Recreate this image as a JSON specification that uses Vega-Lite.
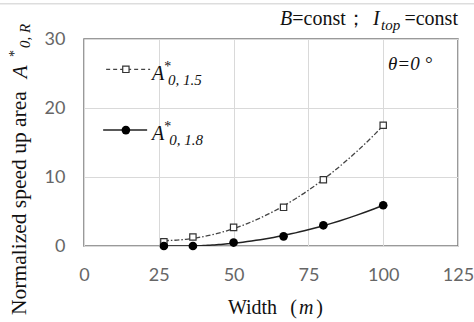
{
  "$schema": "https://vega.github.io/schema/vega-lite/v6.json",
  "width": 374,
  "height": 207,
  "autosize": {"type": "none"},
  "padding": {"left": 84, "top": 39, "right": 16, "bottom": 76},
  "background": "white",
  "datasets": {
    "a15": [
      {"w": 26.7, "a": 0.6},
      {"w": 36.4, "a": 1.3},
      {"w": 50, "a": 2.7},
      {"w": 66.7, "a": 5.6},
      {"w": 80, "a": 9.6},
      {"w": 100, "a": 17.5}
    ],
    "a18": [
      {"w": 26.7, "a": 0},
      {"w": 36.4, "a": 0},
      {"w": 50, "a": 0.5},
      {"w": 66.7, "a": 1.4},
      {"w": 80, "a": 3.0},
      {"w": 100, "a": 5.9}
    ],
    "leg15": [{"w": 7.4, "a": 25.6}, {"w": 22.1, "a": 25.6}],
    "leg18": [{"w": 6.4, "a": 16.8}, {"w": 21.1, "a": 16.8}],
    "legMark15": [{"w": 14.0, "a": 25.6}],
    "legMark18": [{"w": 14.0, "a": 16.8}],
    "frameTop": [{"w": -28.2, "w2": 130.4, "a": 35.1}],
    "serifPlain": [
      {"w": 69.6, "a": 32.0, "t": "=const；"},
      {"w": 107.1, "a": 32.0, "t": "=const"},
      {"w": 48.1, "a": -9.9, "t": "Width"},
      {"w": 68.9, "a": -9.9, "t": "("},
      {"w": 77.6, "a": -9.9, "t": ")"}
    ],
    "serifItalic": [
      {"w": 65.5, "a": 32.0, "t": "B"},
      {"w": 96.6, "a": 32.0, "t": "I"},
      {"w": 71.9, "a": -9.9, "t": "m"}
    ],
    "theta": [{"w": 101.6, "a": 25.5, "t": "θ=0 °"}],
    "subTop": [{"w": 99.3, "a": 31.3, "t": "top"}],
    "legA": [
      {"w": 22.7, "a": 24.0, "t": "A"},
      {"w": 22.7, "a": 15.4, "t": "A"}
    ],
    "legStar": [
      {"w": 26.8, "a": 25.3, "t": "*"},
      {"w": 26.8, "a": 16.7, "t": "*"}
    ],
    "legSub": [
      {"w": 28.1, "a": 23.3, "t": "0, 1.5"},
      {"w": 28.5, "a": 14.6, "t": "0, 1.8"}
    ],
    "yTitle": [{"w": -19.4, "a": -10.0, "t": "Normalized speed up area"}],
    "yTitleA": [{"w": -19.0, "a": 24.3, "t": "A"}],
    "yTitleStar": [{"w": -21.7, "a": 27.4, "t": "*"}],
    "yTitleSub": [{"w": -18.2, "a": 28.7, "t": "0, R"}]
  },
  "encoding": {
    "x": {
      "field": "w",
      "type": "quantitative",
      "scale": {"domain": [0, 125], "nice": false, "zero": false},
      "axis": {"values": [0, 25, 50, 75, 100, 125], "title": null, "labelPadding": 20, "labelFlush": false}
    },
    "y": {
      "field": "a",
      "type": "quantitative",
      "scale": {"domain": [0, 30], "nice": false, "zero": false},
      "axis": {"values": [0, 10, 20, 30], "title": null, "labelPadding": 19, "labelFlush": false}
    }
  },
  "layer": [
    {
      "data": {"name": "frameTop"},
      "mark": {"type": "rule", "color": "#dddddd", "strokeWidth": 1.5, "clip": false},
      "encoding": {"x2": {"field": "w2"}}
    },
    {
      "data": {"name": "a15"},
      "transform": [
        {"regression": "a", "on": "w", "method": "poly", "order": 2, "extent": [26.7, 100]}
      ],
      "mark": {"type": "line", "color": "#444444", "strokeWidth": 1.3, "strokeDash": [5, 2, 1.5, 2], "clip": true}
    },
    {
      "data": {"name": "a18"},
      "transform": [
        {"regression": "a", "on": "w", "method": "poly", "order": 2, "extent": [26.7, 100]}
      ],
      "mark": {"type": "line", "color": "#222222", "strokeWidth": 1.5, "clip": true}
    },
    {
      "data": {"name": "a15"},
      "mark": {"type": "point", "shape": "square", "filled": true, "fill": "white", "stroke": "#333333", "strokeWidth": 1.2, "size": 40, "opacity": 1}
    },
    {
      "data": {"name": "a18"},
      "mark": {"type": "point", "shape": "circle", "filled": true, "color": "black", "size": 75, "opacity": 1}
    },
    {
      "data": {"name": "leg15"},
      "mark": {"type": "line", "color": "#444444", "strokeWidth": 1.3, "strokeDash": [4, 3]}
    },
    {
      "data": {"name": "leg18"},
      "mark": {"type": "line", "color": "#222222", "strokeWidth": 1.5}
    },
    {
      "data": {"name": "legMark15"},
      "mark": {"type": "point", "shape": "square", "filled": true, "fill": "white", "stroke": "#333333", "strokeWidth": 1.2, "size": 40, "opacity": 1}
    },
    {
      "data": {"name": "legMark18"},
      "mark": {"type": "point", "shape": "circle", "filled": true, "color": "black", "size": 75, "opacity": 1}
    },
    {
      "data": {"name": "serifPlain"},
      "mark": {"type": "text", "font": "Liberation Serif", "fontSize": 20, "align": "left", "baseline": "alphabetic", "color": "#111111"},
      "encoding": {"text": {"field": "t", "type": "nominal"}}
    },
    {
      "data": {"name": "serifItalic"},
      "mark": {"type": "text", "font": "Liberation Serif", "fontStyle": "italic", "fontSize": 20, "align": "left", "baseline": "alphabetic", "color": "#111111"},
      "encoding": {"text": {"field": "t", "type": "nominal"}}
    },
    {
      "data": {"name": "theta"},
      "mark": {"type": "text", "font": "Liberation Serif", "fontStyle": "italic", "fontSize": 19, "align": "left", "baseline": "alphabetic", "color": "#111111"},
      "encoding": {"text": {"field": "t", "type": "nominal"}}
    },
    {
      "data": {"name": "subTop"},
      "mark": {"type": "text", "font": "Liberation Serif", "fontStyle": "italic", "fontSize": 15, "align": "left", "baseline": "alphabetic", "color": "#111111"},
      "encoding": {"text": {"field": "t", "type": "nominal"}}
    },
    {
      "data": {"name": "legA"},
      "mark": {"type": "text", "font": "Liberation Serif", "fontStyle": "italic", "fontSize": 20, "align": "left", "baseline": "alphabetic", "color": "#111111"},
      "encoding": {"text": {"field": "t", "type": "nominal"}}
    },
    {
      "data": {"name": "legStar"},
      "mark": {"type": "text", "font": "Liberation Serif", "fontSize": 14, "align": "left", "baseline": "alphabetic", "color": "#111111"},
      "encoding": {"text": {"field": "t", "type": "nominal"}}
    },
    {
      "data": {"name": "legSub"},
      "mark": {"type": "text", "font": "Liberation Serif", "fontStyle": "italic", "fontSize": 15, "align": "left", "baseline": "alphabetic", "color": "#111111"},
      "encoding": {"text": {"field": "t", "type": "nominal"}}
    },
    {
      "data": {"name": "yTitle"},
      "mark": {"type": "text", "font": "Liberation Serif", "fontSize": 21.5, "angle": 270, "align": "left", "baseline": "alphabetic", "color": "#111111"},
      "encoding": {"text": {"field": "t", "type": "nominal"}}
    },
    {
      "data": {"name": "yTitleA"},
      "mark": {"type": "text", "font": "Liberation Serif", "fontStyle": "italic", "fontSize": 21, "angle": 270, "align": "left", "baseline": "alphabetic", "color": "#111111"},
      "encoding": {"text": {"field": "t", "type": "nominal"}}
    },
    {
      "data": {"name": "yTitleStar"},
      "mark": {"type": "text", "font": "Liberation Serif", "fontSize": 14, "angle": 270, "align": "left", "baseline": "alphabetic", "color": "#111111"},
      "encoding": {"text": {"field": "t", "type": "nominal"}}
    },
    {
      "data": {"name": "yTitleSub"},
      "mark": {"type": "text", "font": "Liberation Serif", "fontStyle": "italic", "fontSize": 15, "angle": 270, "align": "left", "baseline": "alphabetic", "color": "#111111"},
      "encoding": {"text": {"field": "t", "type": "nominal"}}
    }
  ],
  "config": {
    "view": {"stroke": "#7a7a7a", "strokeWidth": 1.5},
    "axis": {
      "grid": true,
      "gridColor": "#d9d9d9",
      "gridWidth": 1,
      "domain": false,
      "ticks": false,
      "labelFont": "Lato",
      "labelFontSize": 18,
      "labelColor": "#666666"
    }
  }
}
